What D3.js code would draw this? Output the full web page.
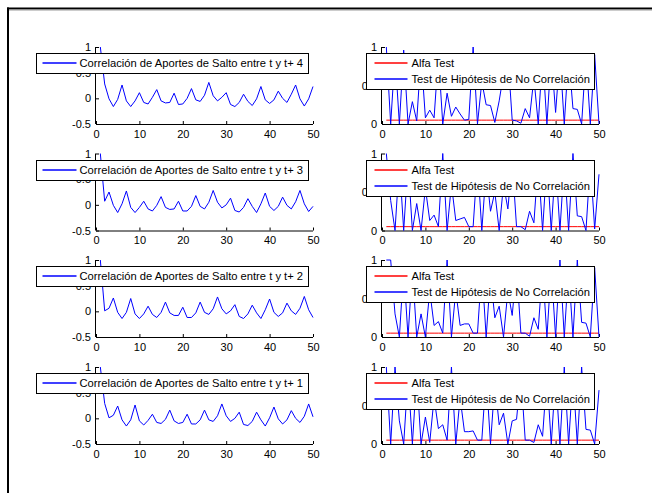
<!DOCTYPE html>
<html>
<head>
<meta charset="utf-8">
<script src="https://cdn.jsdelivr.net/npm/d3@7"></script>
<style>
  body { margin: 0; background: #fff; }
  svg { display: block; }
  text { font-family: "Liberation Sans", Arial, sans-serif; font-size: 11px; fill: #000; }
</style>
</head>
<body>
<svg id="chart" width="652" height="493"></svg>
<script>
// lags 1..50
var lags = d3.range(1, 51);

// autocorrelation per horizon (rows top to bottom: t+4, t+3, t+2, t+1)
var corrT4 = [1, 0.28, -0.01, -0.16, -0.02, 0.26, -0.05, -0.16, -0.05, 0.11,
  -0.08, -0.11, 0.02, 0.17, -0.05, -0.09, -0.08, 0.10, -0.12, -0.11,
  0, 0.19, -0.03, -0.06, 0.06, 0.31, 0.05, -0.05, 0.02, 0.11,
  -0.12, -0.16, -0.08, 0.08, -0.06, -0.14, -0.01, 0.23, -0.03, -0.10,
  -0.03, 0.14, 0, -0.08, 0.08, 0.26, -0.01, -0.15, -0.01, 0.23];
var corrT3 = [1, 0.07, 0.25, -0.01, -0.15, 0.02, 0.27, -0.05, -0.15, -0.05,
  0.07, -0.08, -0.12, -0.01, 0.16, -0.05, -0.09, -0.08, 0.07, -0.12,
  -0.12, -0.03, 0.18, -0.03, -0.08, 0.05, 0.28, 0.05, -0.06, 0,
  0.13, -0.11, -0.14, -0.05, 0.12, -0.03, -0.15, 0.02, 0.23, -0.03,
  -0.11, -0.03, 0.15, -0.01, -0.08, 0.06, 0.28, 0.02, -0.13, -0.03];
var corrT2 = [1, 0.01, 0.06, 0.26, -0.02, -0.14, -0.02, 0.25, -0.05, -0.14,
  -0.05, 0.10, -0.06, -0.12, -0.02, 0.18, -0.03, -0.08, -0.08, 0.08,
  -0.12, -0.12, -0.03, 0.18, -0.02, -0.06, 0.05, 0.28, 0.05, -0.05,
  0.01, 0.13, -0.10, -0.14, -0.05, 0.12, -0.03, -0.14, 0.03, 0.24,
  -0.02, -0.10, -0.03, 0.16, 0.01, -0.06, 0.06, 0.29, 0.03, -0.12];
var corrT1 = [1, 0.29, 0.01, 0.06, 0.24, -0.03, -0.15, -0.03, 0.26, -0.05,
  -0.13, -0.04, 0.08, -0.08, -0.10, -0.02, 0.16, -0.05, -0.10, -0.08,
  0.08, -0.11, -0.11, -0.03, 0.16, -0.03, -0.06, 0.05, 0.28, 0.05,
  -0.06, 0, 0.12, -0.12, -0.14, -0.06, 0.12, -0.03, -0.15, 0.01,
  0.22, -0.01, -0.11, -0.03, 0.15, 0, -0.08, 0.04, 0.28, 0.03];

// p-values of the no-correlation test
var pvalT4 = [1, 0, 0.9, 0, 0.96, 0, 0.29, 0.04, 0.9, 0.08,
  0.18, 0.08, 0.9, 0, 0.40, 0.10, 0.22, 0.13, 0.05, 0.06,
  1, 0, 0.55, 0.25, 0.24, 0.02, 0.30, 0.65, 0.9, 0.05,
  0.04, 0.01, 0.20, 0.08, 0.6, 0, 0.9, 0, 0.9, 0.15,
  0.9, 0, 0.9, 0.20, 0.19, 0, 0.9, 0, 0.9, 0];
var pvalT3 = [1, 0.39, 0, 0.9, 0, 0.9, 0, 0.35, 0, 0.55,
  0.13, 0.2, 0.05, 1, 0, 0.6, 0.13, 0.15, 0.17, 0.05,
  0.05, 0.9, 0, 0.8, 0.25, 0.5, 0, 0.6, 0.28, 0.9,
  0.05, 0.05, 0.01, 0.25, 0.1, 0.9, 0, 0.9, 0, 0.9,
  0, 0.9, 0, 1, 0.19, 0.18, 0, 0.9, 0.02, 0.73];
var pvalT2 = [1, 1, 0.3, 0, 0.9, 0, 0.9, 0, 0.3, 0,
  0.6, 0.15, 0.2, 0.05, 1, 0, 0.6, 0.15, 0.17, 0.17,
  0.05, 0.05, 0.9, 0, 0.8, 0.25, 0.4, 0, 0.6, 0.28,
  0.9, 0.05, 0.05, 0.01, 0.25, 0.1, 0.9, 0, 0.9, 0,
  1, 0, 0.9, 0, 1, 0.19, 0.18, 0, 0.9, 0];
var pvalT1 = [1, 0, 1, 0.3, 0, 0.9, 0, 0.9, 0, 0.35,
  0.02, 0.6, 0.2, 0.25, 0.05, 1, 0, 0.6, 0.16, 0.16,
  0.17, 0.05, 0.05, 0.9, 0, 0.8, 0.25, 0.4, 0, 0.3,
  0.32, 0.9, 0.05, 0.05, 0.02, 0.25, 0.1, 0.9, 0, 0.9,
  0, 1, 0, 0.9, 0, 1, 0.19, 0.18, 0, 0.7];

var alphaTest = 0.05;
var horizons = [4, 3, 2, 1];
var corrSeries = [corrT4, corrT3, corrT2, corrT1];
var pvalSeries = [pvalT4, pvalT3, pvalT2, pvalT1];

var xTicks = [0, 10, 20, 30, 40, 50];
var corrTicks = [-0.5, 0, 0.5, 1];
var pvalTicks = [0, 0.5, 1];

var svg = d3.select("#chart");
svg.append("rect").attr("width", 652).attr("height", 493).attr("fill", "#fff");

// figure frame (top and left edges)
svg.append("line").attr("x1", 7).attr("x2", 652).attr("y1", 8.5).attr("y2", 8.5)
  .attr("stroke", "#000").attr("stroke-width", 2);
svg.append("line").attr("x1", 8).attr("x2", 8).attr("y1", 7.5).attr("y2", 493)
  .attr("stroke", "#000").attr("stroke-width", 2);
svg.append("line").attr("x1", 9).attr("x2", 652).attr("y1", 10).attr("y2", 10)
  .attr("stroke", "#999").attr("stroke-width", 1);

var cols = [{ x0: 96, x1: 313 }, { x0: 382, x1: 599 }];
var rowBottoms = [124, 230.5, 337, 444];
var axHeight = 77;

function drawAxes(g, x, y, yTicks) {
  var xAxis = d3.axisBottom(x).tickValues(xTicks).tickSize(-3).tickPadding(6)
    .tickFormat(d3.format("d"));
  var yAxis = d3.axisLeft(y).tickValues(yTicks).tickSize(-3).tickPadding(5)
    .tickFormat(function (d) { return String(d); });
  var gx = g.append("g").attr("transform", "translate(0," + y.range()[0] + ")").call(xAxis);
  var gy = g.append("g").attr("transform", "translate(" + x.range()[0] + ",0)").call(yAxis);
  [gx, gy].forEach(function (a) {
    a.selectAll("text").style("font-size", "11px").attr("fill", "#000")
      .style("font-family", "'Liberation Sans', Arial, sans-serif");
    a.selectAll("line").attr("stroke", "#000");
    a.select(".domain").attr("stroke", "#000");
  });
  gx.select(".domain").attr("d", "M" + x.range()[0] + ",0.5H" + x.range()[1]);
  gy.select(".domain").attr("d", "M-0.5," + y.range()[0] + "V" + y.range()[1]);
  gx.selectAll(".tick text").attr("dy", "0.71em");
}

function drawLegend(g, xRight, yTop, entries, lineLen, padLeft, gap) {
  var lg = g.append("g");
  var box = lg.append("rect").attr("fill", "#fff").attr("stroke", "#000").attr("stroke-width", 1);
  var texts = [];
  var rowH = 16;
  yTop = Math.round(yTop);
  entries.forEach(function (e, i) {
    var cy = yTop + 10 + i * rowH;
    var line = lg.append("line").attr("stroke", e.color).attr("stroke-width", 1.3)
      .attr("y1", cy).attr("y2", cy);
    var t = lg.append("text").attr("y", cy).attr("dy", "0.35em")
      .style("font-size", "11.2px").text(e.label);
    texts.push({ line: line, text: t });
  });
  var maxW = d3.max(texts, function (d) { return d.text.node().getComputedTextLength(); });
  var width = Math.round(padLeft + lineLen + gap + maxW + 5);
  var x0 = Math.round(xRight - width) + 0.5;
  box.attr("x", x0).attr("y", yTop + 0.5).attr("width", width).attr("height", 4 + entries.length * rowH);
  texts.forEach(function (d) {
    d.line.attr("x1", x0 + padLeft).attr("x2", x0 + padLeft + lineLen);
    d.text.attr("x", x0 + padLeft + lineLen + gap);
  });
}

horizons.forEach(function (h, i) {
  var bottom = rowBottoms[i];
  var top = bottom - axHeight;

  // left: correlation
  var xL = d3.scaleLinear().domain([0, 50]).range([cols[0].x0, cols[0].x1]);
  var yL = d3.scaleLinear().domain([-0.5, 1]).range([bottom, top]);
  var gL = svg.append("g");
  drawAxes(gL, xL, yL, corrTicks);
  gL.append("path").datum(corrSeries[i])
    .attr("fill", "none").attr("stroke", "#0000ff").attr("stroke-width", 1)
    .attr("d", d3.line().x(function (d, k) { return xL(lags[k]); }).y(function (d) { return yL(d); }));
  drawLegend(gL, cols[0].x1 - 5, top + 6,
    [{ label: "Correlación de Aportes de Salto entre t y t+ " + h, color: "#0000ff" }], 34, 6, 3);

  // right: test p-values
  var xR = d3.scaleLinear().domain([0, 50]).range([cols[1].x0, cols[1].x1]);
  var yR = d3.scaleLinear().domain([0, 1]).range([bottom, top]);
  var gR = svg.append("g");
  drawAxes(gR, xR, yR, pvalTicks);
  gR.append("path").datum(lags)
    .attr("fill", "none").attr("stroke", "#ff0000").attr("stroke-width", 1)
    .attr("d", d3.line().x(function (d) { return xR(d); }).y(function () { return yR(alphaTest); }));
  gR.append("path").datum(pvalSeries[i])
    .attr("fill", "none").attr("stroke", "#0000ff").attr("stroke-width", 1)
    .attr("d", d3.line().x(function (d, k) { return xR(lags[k]); }).y(function (d) { return yR(d); }));
  drawLegend(gR, cols[1].x1 - 5, top + 6, [
    { label: "Alfa Test", color: "#ff0000" },
    { label: "Test de Hipótesis de No Correlación", color: "#0000ff" }
  ], 33, 8, 4);
});
</script>
</body>
</html>
